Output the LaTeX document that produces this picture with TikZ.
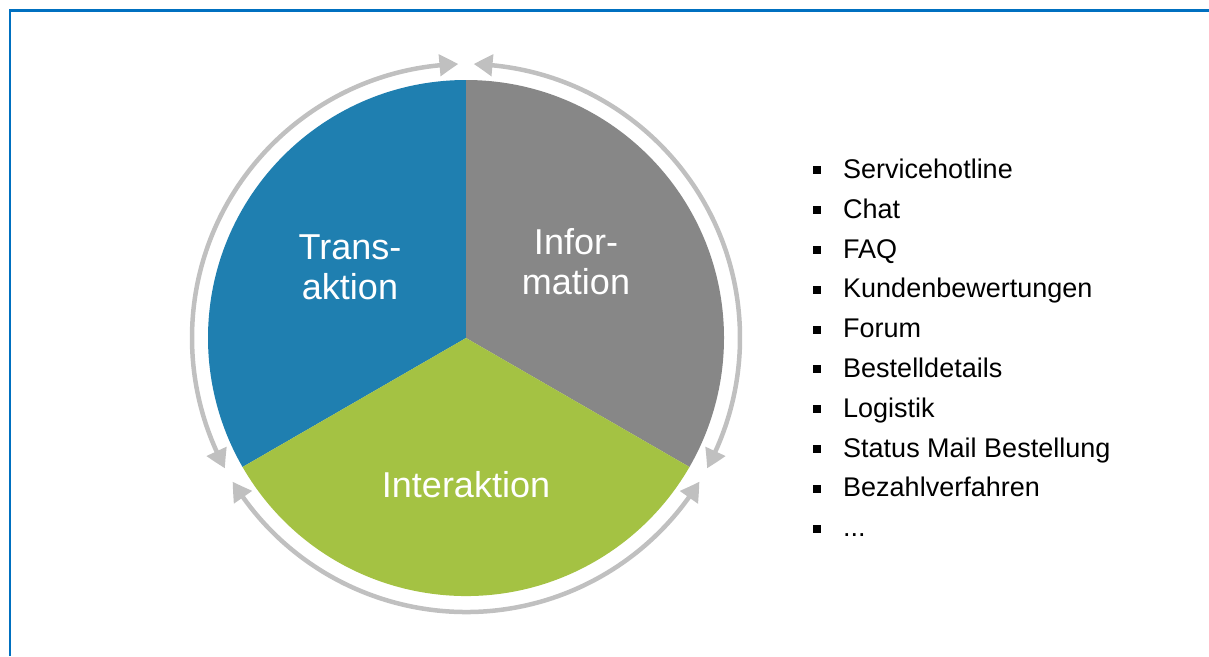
\documentclass[tikz,border=0pt]{standalone}
\usepackage{fontspec}
\setmainfont{Liberation Sans}
\usepackage{tikz}
\usetikzlibrary{arrows.meta, bending, calc, positioning}

\definecolor{transblue}{RGB}{31,127,176}
\definecolor{infogray}{RGB}{135,135,135}
\definecolor{intergreen}{RGB}{164,194,67}
\definecolor{ringgray}{RGB}{192,192,192}
\definecolor{frameblue}{RGB}{0,112,192}

\newcommand{\itemsq}{\rule[4pt]{8pt}{8pt}\hspace{22pt}}

\begin{document}
\begin{tikzpicture}[
    x=1pt, y=1pt,
    % --- STYLES ---
    frame/.style={line width=2.6pt, draw=frameblue},
    sector/.style={draw=none},
    label/.style={
        text=white, align=center,
        font=\fontsize{36}{40}\selectfont,
        inner sep=0pt
    },
    ring/.style={
        line width=4.5pt, draw=ringgray,
        {Triangle[length=19pt, width=21pt, bend]}-{Triangle[length=19pt, width=21pt, bend]}
    },
    listitem/.style={
        anchor=north west, inner sep=0pt,
        minimum height=39.4pt,
        text height=19pt, text depth=6pt,
        font=\fontsize{27}{30}\selectfont
    }
]

\useasboundingbox (0,0) rectangle (1209,-656);

% ===== 1. FRAME =====
\draw[frame] (10,-656) -- (10,-10.5) -- (1209,-10.5);

% ===== 2. PIE =====
\def\rPie{258}
\def\rRing{274}
\coordinate (c) at (466,-338);

\fill[sector, transblue] (c) -- ($(c)+(90:\rPie)$) arc[start angle=90, end angle=210, radius=\rPie] -- cycle;
\fill[sector, infogray] (c) -- ($(c)+(90:\rPie)$) arc[start angle=90, end angle=-30, radius=\rPie] -- cycle;
\fill[sector, intergreen] (c) -- ($(c)+(210:\rPie)$) arc[start angle=210, end angle=330, radius=\rPie] -- cycle;

\node[label] (trans) at (350,-267) {Trans-\\aktion};
\node[label] (info) at (576,-262) {Infor-\\mation};
\node[label] (inter) at (466,-485) {Interaktion};

% ===== 3. RING ARROWS =====
\draw[ring] ($(c)+(91.6:\rRing)$) arc[start angle=91.6, end angle=208.4, radius=\rRing];
\draw[ring] ($(c)+(88.4:\rRing)$) arc[start angle=88.4, end angle=-28.4, radius=\rRing];
\draw[ring] ($(c)+(211.6:\rRing)$) arc[start angle=211.6, end angle=328.4, radius=\rRing];

% ===== 4. CHANNEL LIST =====
\node[listitem] (l1) at (813,-152) {\itemsq Servicehotline};
\node[listitem, below right=0pt and 0pt of l1.south west] (l2) {\itemsq Chat};
\node[listitem, below right=0pt and 0pt of l2.south west] (l3) {\itemsq FAQ};
\node[listitem, below right=0pt and 0pt of l3.south west] (l4) {\itemsq Kundenbewertungen};
\node[listitem, below right=0pt and 0pt of l4.south west] (l5) {\itemsq Forum};
\node[listitem, below right=0pt and 0pt of l5.south west] (l6) {\itemsq Bestelldetails};
\node[listitem, below right=0pt and 0pt of l6.south west] (l7) {\itemsq Logistik};
\node[listitem, below right=0pt and 0pt of l7.south west] (l8) {\itemsq Status Mail Bestellung};
\node[listitem, below right=0pt and 0pt of l8.south west] (l9) {\itemsq Bezahlverfahren};
\node[listitem, below right=0pt and 0pt of l9.south west] (l10) {\itemsq ...};

\end{tikzpicture}
\end{document}
